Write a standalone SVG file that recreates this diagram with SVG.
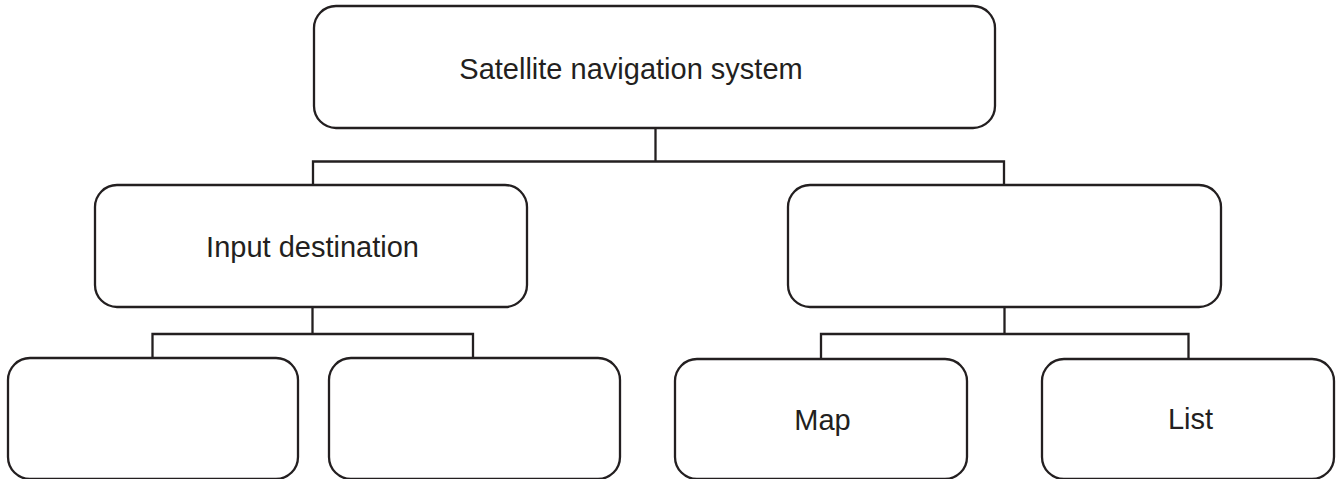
<svg xmlns="http://www.w3.org/2000/svg" width="1338" height="479" viewBox="0 0 1338 479">
<style>
.box{fill:#fff;stroke:#231f20;stroke-width:2.3}
.ln{fill:none;stroke:#231f20;stroke-width:2.3}
.t{font-family:"Liberation Sans",Arial,sans-serif;font-size:29px;fill:#231f20;text-anchor:middle}
</style>
<rect width="1338" height="479" fill="#fff"/>
<g id="connectors">
<path class="ln" d="M655.5 128V161.5M313 186V161.5H1004V186"/>
<path class="ln" d="M312.5 307V334M152.5 358V334H473V358"/>
<path class="ln" d="M1004.5 307V334M821 359V334H1188.5V359"/>
</g>
<g id="n-root"><rect class="box" x="314" y="6" width="681" height="122" rx="22"/><text class="t" x="631" y="78.5">Satellite navigation system</text></g>
<g id="n-input"><rect class="box" x="95" y="185" width="432" height="122" rx="22"/><text class="t" x="312.5" y="257">Input destination</text></g>
<g id="n-output"><rect class="box" x="788" y="185" width="433" height="122" rx="22"/></g>
<g id="n-b1"><rect class="box" x="8" y="358" width="290" height="121" rx="22"/></g>
<g id="n-b2"><rect class="box" x="329" y="358" width="291" height="121" rx="22"/></g>
<g id="n-map"><rect class="box" x="675" y="359" width="292" height="120" rx="22"/><text class="t" x="822.5" y="430">Map</text></g>
<g id="n-list"><rect class="box" x="1042" y="359" width="292" height="120" rx="22"/><text class="t" x="1190.5" y="428.5">List</text></g>
</svg>
